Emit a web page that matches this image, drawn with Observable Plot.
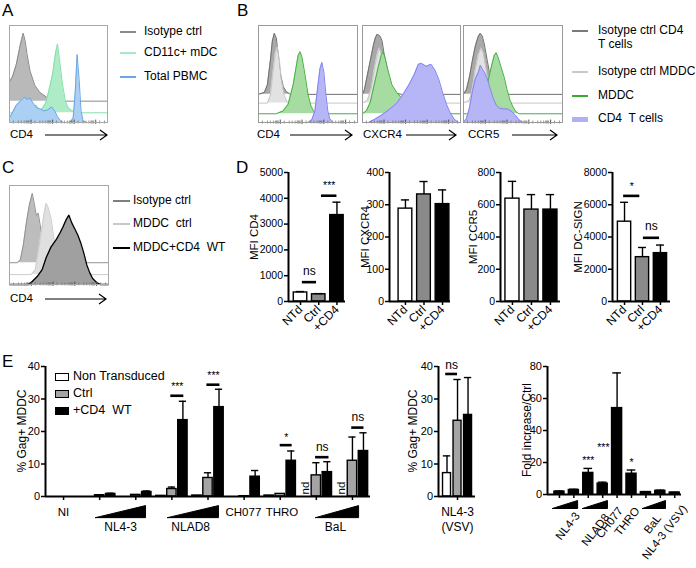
<!DOCTYPE html>
<html><head><meta charset="utf-8">
<script src="https://cdn.jsdelivr.net/npm/d3@7"></script>
<script src="https://cdn.jsdelivr.net/npm/@observablehq/plot@0.6"></script>
<style>
body{margin:0;background:#fff;}
#fig{position:relative;width:696px;height:568px;overflow:hidden;font-family:"Liberation Sans",Arial,Helvetica,sans-serif;background:#fff;}
.t{position:absolute;white-space:pre;color:#000;line-height:1;}
.v{position:absolute;white-space:pre;color:#000;line-height:1;transform:translate(-50%,-50%) rotate(-90deg);}
.sw{position:absolute;}
</style></head><body><div id="fig"></div>
<script>
// ---------------- DATA ----------------
// Flow histograms: [channel (0-100), height above the layer's baseline]
const aIsotype = [[0,20],[3,25],[7,38],[11,58],[14,70],[16,62],[18,48],[21,31],[26,16],[31,9],[38,4],[43,1],[46,0],[100,0]];
const aMDC = [[0,0],[20,0],[24,4],[27,8],[30,3],[33,4],[37,10],[40,22],[44,40],[47,62],[49,71],[51,55],[54,30],[57,12],[60,5],[64,2],[68,0],[100,0]];
const aPBMC = [[0,5],[3,10],[7,18],[11,22],[15,26],[18,24],[21,25],[24,20],[28,15],[31,14],[35,12],[39,13],[43,16],[46,12],[49,6],[52,2],[55,0],[62,0],[65,5],[67,30],[69,70],[71,45],[73,12],[75,2],[78,0],[100,0]];

const bCD4IsoT = [[0,0],[6,2],[9,10],[12,35],[14,55],[16,63],[18,58],[20,40],[22,22],[25,8],[28,3],[32,0],[100,0]];
const bCD4IsoM = [[0,0],[9,0],[12,8],[15,35],[17,52],[19,58],[21,45],[23,25],[26,8],[29,1],[32,0],[100,0]];
const bCD4MDDC = [[0,0],[18,0],[25,3],[30,10],[35,30],[38,48],[40,60],[42,64],[44,58],[47,40],[50,20],[53,8],[56,2],[60,0],[100,0]];
const bCD4T = [[0,0],[50,0],[54,3],[57,12],[60,38],[62,55],[64,62],[66,52],[68,30],[70,12],[72,4],[75,0],[100,0]];

const bCXCR4IsoT = [[0,0],[2,5],[5,20],[8,35],[11,50],[13,58],[15,62],[18,60],[20,55],[22,42],[25,25],[28,12],[31,5],[35,1],[40,0],[100,0]];
const bCXCR4IsoM = [[0,0],[5,3],[9,15],[12,35],[15,50],[17,57],[19,52],[22,35],[25,15],[28,5],[32,0],[100,0]];
const bCXCR4MDDC = [[0,0],[4,3],[8,12],[12,30],[16,48],[19,60],[21,64],[23,58],[26,45],[30,30],[35,22],[40,16],[45,10],[50,5],[55,2],[60,0],[100,0]];
const bCXCR4T = [[0,0],[6,0],[12,3],[20,8],[28,14],[35,20],[42,30],[48,40],[53,50],[57,60],[60,61],[65,58],[70,60],[74,54],[78,44],[82,30],[86,18],[90,9],[94,3],[98,0],[100,0]];

const bCCR5IsoT = [[0,0],[3,5],[6,18],[9,35],[12,50],[15,60],[17,63],[19,60],[21,52],[24,35],[27,18],[30,8],[34,2],[38,0],[100,0]];
const bCCR5IsoM = [[0,0],[6,3],[9,15],[12,35],[15,50],[18,57],[20,52],[23,35],[26,15],[29,4],[33,0],[100,0]];
const bCCR5MDDC = [[0,0],[12,0],[16,5],[20,15],[24,30],[28,48],[31,60],[33,63],[35,58],[38,48],[41,38],[44,25],[47,14],[50,7],[53,2],[56,0],[100,0]];
const bCCR5T = [[0,0],[3,4],[6,15],[9,32],[12,45],[15,52],[17,59],[19,55],[21,52],[24,45],[27,35],[30,25],[33,18],[36,15],[40,14],[44,14],[48,12],[52,8],[56,3],[60,0],[100,0]];

const cIsotype = [[0,0],[8,0],[11,3],[14,18],[17,40],[20,58],[22,66],[23,70],[25,60],[27,48],[29,50],[31,38],[33,23],[35,12],[37,5],[40,0],[100,0]];
const cMDDCctrl = [[0,0],[22,0],[26,5],[29,22],[32,42],[35,62],[37,72],[39,68],[42,57],[45,35],[48,15],[51,4],[54,0],[100,0]];
const cMDDCCD4 = [[0,0],[18,0],[22,2],[28,8],[33,15],[37,27],[42,38],[47,45],[51,52],[54,58],[57,65],[60,70],[63,62],[66,56],[69,50],[72,42],[75,32],[78,20],[81,12],[84,6],[88,2],[92,0],[100,0]];

const flowMinor = [4,9,12,15,17,18,19,20,26,31,34,37,39,40,41,42,48,53,56,59,61,62,63,64,70,75,78,81,83,84,85,86,92,97];
const flowMajor = [22,44,66,88];

// Panel D
const dCats = ["NTd", "Ctrl", "+CD4"];
const mfiCD4 = [350, 280, 3350], mfiCD4Err = [385, 305, 3850];
const mfiCXCR4 = [288, 332, 302], mfiCXCR4Err = [315, 372, 346];
const mfiCCR5 = [638, 570, 570], mfiCCR5Err = [745, 663, 663];
const mfiDCSIGN = [4950, 2750, 3000], mfiDCSIGNErr = [6150, 3350, 3500];

// Panel E (main)
const eGroups = ["NI", "NL4-3 low", "NL4-3 high", "NLAD8 low", "NLAD8 high", "CH077", "THRO", "BaL low", "BaL high"];
const eNonTransduced = [0, 0, 0, 0.2, 0.3, 0, 0.3, null, null];
const eNonTransducedErr = [null, null, null, null, null, null, null, null, null];
const eCtrl = [0, 0.4, 0.5, 2.3, 5.7, 0.1, 0.8, 6.5, 11.0];
const eCtrlErr = [null, null, null, 2.9, 7.3, null, null, 10.4, 18.3];
const eCD4 = [0, 0.8, 1.4, 23.5, 27.5, 6.1, 11.0, 7.5, 14.0];
const eCD4Err = [null, 1.0, 1.7, 29.3, 33.0, 8.0, 14.0, 10.7, 19.6];
const eSig = [{g1: 2.97, g2: 3.33, y: 31.0, ty: 33.8, s: "***"}, {g1: 3.97, g2: 4.33, y: 34.4, ty: 37.2, s: "***"},
              {g1: 6.0, g2: 6.33, y: 15.8, ty: 18.2, s: "*"}, {g1: 6.98, g2: 7.35, y: 12.1, ty: 15.2, s: "ns"},
              {g1: 7.98, g2: 8.32, y: 21.2, ty: 24.3, s: "ns"}];

// Panel E (VSV)
const vsvVals = [7.2, 23.3, 25.1], vsvErr = [12.5, 36.0, 36.6];

// Panel E (fold increase)
const foldCats = ["NL4-3 low", "NL4-3 high", "NLAD8 low", "NLAD8 high", "CH077", "THRO", "BaL low", "BaL high", "NL4-3 (VSV)"];
const foldVals = [1.8, 2.8, 13.5, 6.8, 54, 13, 1.5, 2.3, 1.2];
const foldErr = [2.2, 3.3, 16.3, 7.7, 76, 15.3, 1.8, 2.7, 1.4];

// ---------------- HELPERS ----------------
const W = 696, H = 568;
const FONT = '"Liberation Sans", Arial, Helvetica, sans-serif';
const fig = document.getElementById("fig");
const baseStyle = {fontFamily: FONT, fontSize: "11px", background: "transparent", overflow: "visible", color: "#000"};

function add(el) { el.style.position = "absolute"; el.style.left = "0px"; el.style.top = "0px"; fig.appendChild(el); }
function box(l, t, r, b) { return {marginLeft: l, marginTop: t, marginRight: W - r, marginBottom: H - b}; }
function htext(str, x, cy, size, extra = {}) {
  const d = document.createElement("div"); d.className = "t"; d.textContent = str;
  d.style.left = x + "px"; d.style.top = (cy - size * 0.55) + "px"; d.style.fontSize = size + "px";
  Object.assign(d.style, extra); fig.appendChild(d);
}
function vtext(str, cx, cy, size) {
  const d = document.createElement("div"); d.className = "v"; d.textContent = str;
  d.style.left = cx + "px"; d.style.top = cy + "px"; d.style.fontSize = size + "px";
  fig.appendChild(d);
}
function swatch(x1, x2, y, color, th = 2) {
  const d = document.createElement("div"); d.className = "sw";
  Object.assign(d.style, {left: x1 + "px", top: (y - th / 2) + "px", width: (x2 - x1) + "px", height: th + "px", background: color});
  fig.appendChild(d);
}
function sqr(x, y, w, h, fill) {
  const d = document.createElement("div"); d.className = "sw";
  Object.assign(d.style, {left: x + "px", top: y + "px", width: w + "px", height: h + "px", background: fill, border: "1.5px solid #000", boxSizing: "border-box"});
  fig.appendChild(d);
}

function flow(l, t, r, b, layers, frameColor = "#9a9a9a") {
  const marks = [];
  for (const L of layers) {
    const pts = L.pts.map(([c, h]) => ({c, lo: L.base, hi: L.base + h}));
    marks.push(Plot.areaY(pts, {x: "c", y1: "lo", y2: "hi", fill: L.fill}));
    marks.push(Plot.lineY(pts, {x: "c", y: "hi", stroke: L.stroke, strokeWidth: L.sw ?? 1}));
  }
  marks.push(Plot.ruleX(flowMinor, {y1: -1.5, y2: 1.5, stroke: "#666", strokeWidth: 0.7}));
  marks.push(Plot.ruleX(flowMajor, {y1: -2, y2: 2.5, stroke: "#444", strokeWidth: 0.9}));
  marks.push(Plot.frame({stroke: frameColor, strokeWidth: 1}));
  add(Plot.plot({width: W, height: H, ...box(l, t, r, b), x: {domain: [0, 100], axis: null}, y: {domain: [0, 100], axis: null}, style: baseStyle, marks}));
}

function barChart(o) {
  const rows = o.rows;
  const withErr = rows.filter(d => d.e != null);
  const marks = [
    Plot.rect(rows, {x1: d => d.x - o.hw, x2: d => d.x + o.hw, y1: 0, y2: "v", fill: d => o.fills[d.f], stroke: "#000", strokeWidth: 1.4}),
    Plot.ruleX(withErr, {x: "x", y1: "v", y2: "e", strokeWidth: 1.4}),
    Plot.ruleY(withErr, {x1: d => d.x - o.cap, x2: d => d.x + o.cap, y: "e", strokeWidth: 1.4}),
    Plot.ruleX([o.xdom[0]], {y1: o.ydom[0], y2: o.ydom[1], strokeWidth: 2}),
    Plot.ruleY([0], {x1: o.xdom[0], x2: o.xdom[1], strokeWidth: 2}),
    Plot.axisY({ticks: o.yticks, tickFormat: "d", tickSize: 4, tickPadding: 1.5, label: null, strokeWidth: 1.5, fontSize: o.tickSize ?? 10.5}),
    Plot.axisX({ticks: o.xticks, tickFormat: o.xfmt, tickRotate: o.xrot ?? 0, tickSize: 4, tickPadding: 2, label: null, strokeWidth: 1.5, fontSize: 12}),
    ...(o.extra ?? [])
  ];
  add(Plot.plot({width: W, height: H, ...box(o.l, o.t, o.r, o.b),
    x: {type: "linear", domain: o.xdom}, y: {domain: o.ydom}, color: {type: "identity"}, style: baseStyle, marks}));
  vtext(o.ylabel, o.lx, (o.t + o.b) / 2, o.lsize ?? 11.5);
}
function sigMarks(sig) {
  return [
    Plot.ruleY(sig, {x1: d => d.g1, x2: d => d.g2, y: "y", strokeWidth: 2.6}),
    Plot.text(sig, {x: d => (d.g1 + d.g2) / 2, y: "ty", text: "s", fontSize: d => d.s === "ns" ? 12 : 10.5})
  ];
}

// ---------------- PANEL LETTERS ----------------
htext("A", 2, 11, 17); htext("B", 237, 11, 17); htext("C", 2, 168, 17); htext("D", 236, 168, 17); htext("E", 2, 362, 17);

// ---------------- PANEL A ----------------
flow(9, 25, 107, 122, [
  {pts: aIsotype, base: 22, fill: "#b9b9b9", stroke: "#8a8a8a"},
  {pts: aMDC, base: 10, fill: "#aeecc8", stroke: "#86deaa"},
  {pts: aPBMC, base: 0, fill: "#acd0f3", stroke: "#6aa6e2"}
], "#a8a8a8");
swatch(120, 136, 32, "#8a8a8a"); htext("Isotype ctrl", 144, 32, 12);
swatch(120, 136, 53, "#a6e9c2"); htext("CD11c+ mDC", 144, 53, 12);
swatch(120, 136, 77, "#6aa6e2"); htext("Total PBMC", 144, 77, 12);

// ---------------- PANEL B ----------------
const bColors = [
  {fill: "#a9a9a9", stroke: "#6f6f6f", base: 29},
  {fill: "#e2e2e2", stroke: "#c6c6c6", base: 20},
  {fill: "#a6dca2", stroke: "#45b040", base: 9},
  {fill: "#b6b6f7", stroke: "#8383ee", base: 0}
];
[[258, 357, [bCD4IsoT, bCD4IsoM, bCD4MDDC, bCD4T]],
 [362, 460, [bCXCR4IsoT, bCXCR4IsoM, bCXCR4MDDC, bCXCR4T]],
 [463, 562, [bCCR5IsoT, bCCR5IsoM, bCCR5MDDC, bCCR5T]]].forEach(([l, r, sets]) => {
  flow(l, 25, r, 122, sets.map((pts, i) => ({pts, ...bColors[i]})));
});
swatch(572, 588, 31, "#7a7a7a"); htext("Isotype ctrl CD4", 598, 31, 12); htext("T cells", 598, 45, 12);
swatch(572, 588, 72, "#c8c8c8"); htext("Isotype ctrl MDDC", 598, 72, 12);
swatch(572, 588, 96, "#3aaa35"); htext("MDDC", 598, 96, 12);
swatch(572, 588, 119, "#b0b0f6", 5); htext("CD4  T cells", 598, 119, 12);

// ---------------- PANEL C ----------------
flow(9, 185, 108, 284, [
  {pts: cIsotype, base: 22, fill: "#bdbdbd", stroke: "#929292"},
  {pts: cMDDCctrl, base: 10, fill: "#e0e0e0", stroke: "#cdcdcd"},
  {pts: cMDDCCD4, base: 0, fill: "#a0a0a0", stroke: "#000", sw: 1.3}
], "#a8a8a8");
swatch(113, 130, 201, "#7f7f7f"); htext("Isotype ctrl", 133, 201, 12);
swatch(113, 130, 224, "#c8c8c8"); htext("MDDC  ctrl", 133, 224, 12);
swatch(113, 130, 248, "#000"); htext("MDDC+CD4  WT", 133, 248, 12);

// Flow axis labels + arrows
htext("CD4", 10, 135, 11.5); htext("CD4", 257, 135, 11.5); htext("CXCR4", 363, 135, 11.5); htext("CCR5", 468, 135, 11.5); htext("CD4", 10, 299, 11.5);
{
  const arrows = [[45, 107, 135], [290, 352, 135], [406, 456, 135], [512, 557, 135], [45, 106, 299]];
  const ns = "http://www.w3.org/2000/svg";
  const s = document.createElementNS(ns, "svg"); s.setAttribute("width", W); s.setAttribute("height", H);
  s.style.position = "absolute"; s.style.left = "0"; s.style.top = "0";
  s.innerHTML = arrows.map(([a, b, y]) => `<path d="M${a} ${y}H${b} M${b - 7} ${y - 5}L${b} ${y}L${b - 7} ${y + 5}" fill="none" stroke="#000" stroke-width="1.2"/>`).join("");
  fig.appendChild(s);
}

// ---------------- PANEL D ----------------
const dFills = {w: "#fff", g: "#8a8a8a", k: "#000"};
const dKeys = ["w", "g", "k"];
function dRows(vals, errs) { return vals.map((v, i) => ({x: i, v, e: errs[i], f: dKeys[i]})); }
const dCommon = {t: 172, b: 301, hw: 0.37, cap: 0.22, fills: dFills, xticks: [0, 1, 2], xfmt: i => dCats[i], xrot: -45};
barChart({...dCommon, l: 288, r: 345, xdom: [-0.66, 2.47], ydom: [0, 5000], yticks: [0, 1000, 2000, 3000, 4000, 5000],
  rows: dRows(mfiCD4, mfiCD4Err), ylabel: "MFI CD4", lx: 255,
  extra: sigMarks([{g1: 0.1, g2: 0.88, y: 750, ty: 1160, s: "ns"}, {g1: 1.15, g2: 2.0, y: 4100, ty: 4480, s: "***"}])});
barChart({...dCommon, l: 389, r: 450, xdom: [-0.86, 2.43], ydom: [0, 400], yticks: [0, 100, 200, 300, 400],
  rows: dRows(mfiCXCR4, mfiCXCR4Err), ylabel: "MFI CXCR4", lx: 366});
barChart({...dCommon, l: 500, r: 560, xdom: [-0.63, 2.53], ydom: [0, 800], yticks: [0, 200, 400, 600, 800],
  rows: dRows(mfiCCR5, mfiCCR5Err), ylabel: "MFI CCR5", lx: 474});
barChart({...dCommon, l: 612, r: 670, xdom: [-0.67, 2.56], ydom: [0, 8000], yticks: [0, 2000, 4000, 6000, 8000],
  rows: dRows(mfiDCSIGN, mfiDCSIGNErr), ylabel: "MFI DC-SIGN", lx: 579,
  extra: sigMarks([{g1: -0.05, g2: 0.85, y: 6550, ty: 7150, s: "*"}, {g1: 1.05, g2: 1.95, y: 3950, ty: 4700, s: "ns"}])});

// ---------------- PANEL E main ----------------
const eFills = {w: "#fff", g: "#a4a4a4", k: "#000"};
const eRows = [];
eGroups.forEach((_, g) => {
  [[eNonTransduced, eNonTransducedErr, "w", -1], [eCtrl, eCtrlErr, "g", 0], [eCD4, eCD4Err, "k", 1]].forEach(([vals, errs, f, k]) => {
    if (vals[g] != null) eRows.push({x: g + k * 0.305, v: vals[g], e: errs[g], f});
  });
});
const eNd = eNonTransduced.map((v, g) => ({g, v})).filter(d => d.v == null).map(d => ({x: d.g - 0.305}));
const eLabelsRow1 = [{g: 0, text: "NI"}, {g: 4.98, text: "CH077"}, {g: 6.05, text: "THRO"}];
const eLabelsRow2 = [{g: 1.58, text: "NL4-3"}, {g: 3.52, text: "NLAD8"}, {g: 7.53, text: "BaL"}];
const eWedges = [[0.886, 2.27], [2.88, 4.29], [6.98, 8.17]];
const eWedgePts = eWedges.flatMap(([a, b], w) => [{w, x: a, y: -6.5}, {w, x: b, y: -6.5}, {w, x: b, y: -2.8}, {w, x: a, y: -6.5}]);
barChart({l: 45, r: 370, t: 366, b: 496, xdom: [-0.5, 8.5], ydom: [0, 40], yticks: [0, 10, 20, 30, 40], tickSize: 11,
  rows: eRows, hw: 0.13, cap: 0.1, fills: eFills, xticks: d3.range(9), xfmt: () => "",
  ylabel: "% Gag+ MDDC", lx: 22, lsize: 12,
  extra: [
    ...sigMarks(eSig),
    Plot.text(eNd, {x: "x", y: 0, text: () => "nd", rotate: -90, textAnchor: "start", dy: -2, fontSize: 11.5}),
    Plot.text(eLabelsRow1, {x: "g", y: -4.8, text: "text", fontSize: 11.5}),
    Plot.text(eLabelsRow2, {x: "g", y: -9.5, text: "text", fontSize: 12}),
    Plot.line(eWedgePts, {x: "x", y: "y", z: "w", fill: "#000", stroke: "#000", strokeWidth: 1})
  ]});
// legend E
sqr(55, 373, 14, 8, "#fff"); htext("Non Transduced", 73, 377, 12.5);
sqr(55, 390, 14, 8, "#a4a4a4"); htext("Ctrl", 73, 394, 12.5);
sqr(55, 407, 14, 8, "#000"); htext("+CD4  WT", 73, 411, 12.5);

// ---------------- PANEL E VSV ----------------
barChart({l: 438, r: 475, t: 366, b: 496, xdom: [-1.81, 1.71], ydom: [0, 40], yticks: [0, 10, 20, 30, 40], tickSize: 11,
  rows: vsvVals.map((v, i) => ({x: i - 1, v, e: vsvErr[i], f: ["w", "g", "k"][i]})), hw: 0.38, cap: 0.35, fills: eFills,
  xticks: [0], xfmt: () => "", ylabel: "% Gag+ MDDC", lx: 413, lsize: 12,
  extra: [
    ...sigMarks([{g1: -1.12, g2: 0.0, y: 37.7, ty: 40.5, s: "ns"}]),
    Plot.text(["NL4-3"], {x: 0, y: -4.8, fontSize: 12}),
    Plot.text(["(VSV)"], {x: 0, y: -9.5, fontSize: 12})
  ]});

// ---------------- PANEL E fold ----------------
const fWedges = [[-0.49, 1.26], [1.6, 3.33], [5.76, 7.36]];
const fWedgePts = fWedges.flatMap(([a, b], w) => [{w, x: a, y: -8.75}, {w, x: b, y: -8.75}, {w, x: b, y: -3.75}, {w, x: a, y: -8.75}]);
const fLabels = [{x: 1.25, y: -12, text: "NL4-3"}, {x: 3.3, y: -13, text: "NLAD8"}, {x: 4.24, y: -8.8, text: "CH077"},
                 {x: 5.4, y: -8.8, text: "THRO"}, {x: 6.9, y: -13.5, text: "BaL"}, {x: 8.7, y: -7.5, text: "NL4-3 (VSV)"}];
barChart({l: 547, r: 681, t: 366, b: 494, xdom: [-0.83, 8.47], ydom: [0, 80], yticks: [0, 20, 40, 60, 80], tickSize: 11,
  rows: foldVals.map((v, i) => ({x: i, v, e: foldErr[i], f: "k"})), hw: 0.35, cap: 0.3, fills: eFills,
  xticks: d3.range(9), xfmt: () => "", ylabel: "Fold increase/Ctrl", lx: 527, lsize: 12,
  extra: [
    Plot.text([{x: 2, y: 21, s: "***"}, {x: 3.05, y: 29.5, s: "***"}, {x: 5, y: 20, s: "*"}], {x: "x", y: "y", text: "s", fontSize: 10.5}),
    Plot.line(fWedgePts, {x: "x", y: "y", z: "w", fill: "#000", stroke: "#000", strokeWidth: 1}),
    Plot.text(fLabels, {x: "x", y: "y", text: "text", rotate: -52, textAnchor: "end", fontSize: 11.5})
  ]});
</script></body></html>
